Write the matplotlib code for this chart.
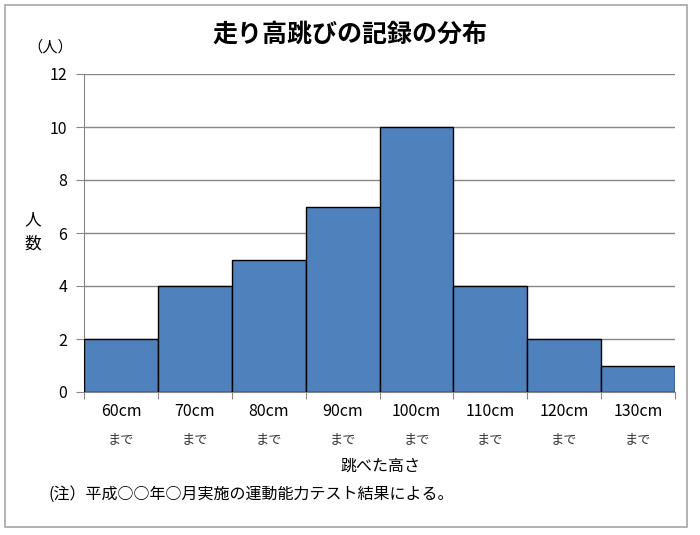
import matplotlib
matplotlib.use('Agg')
import matplotlib.pyplot as plt
from matplotlib.patches import Rectangle

plt.rcParams['font.family'] = ['Noto Sans CJK JP', 'DejaVu Sans']

# data
heights = ['60cm', '70cm', '80cm', '90cm', '100cm', '110cm', '120cm', '130cm']
counts = [2, 4, 5, 7, 10, 4, 2, 1]
y_ticks = [0, 2, 4, 6, 8, 10, 12]

W, H = 700, 535
fig = plt.figure(figsize=(W / 100, H / 100), dpi=100)

# outer frame of the chart
fig.patches.append(Rectangle((5 / W, 1 - 527 / H), 682 / W, 522 / H,
                             transform=fig.transFigure, fill=False,
                             edgecolor='#a6a6a6', linewidth=1.2))

ax = fig.add_axes([84 / W, 1 - 392 / H, 591 / W, 318 / H])
x = list(range(len(counts)))
ax.bar(x, counts, width=1.0, color='#4f81bd', edgecolor='black', linewidth=1.0, zorder=3)

ax.set_xlim(-0.5, len(counts) - 0.5)
ax.set_ylim(0, 12)
ax.set_yticks(y_ticks)
ax.set_yticklabels([str(v) for v in y_ticks], fontsize=11.5)
ax.grid(axis='y', color='#878787', linewidth=1.0, zorder=0)

# x ticks at bar boundaries, labels between them
ax.set_xticks([i - 0.5 for i in range(len(counts) + 1)])
ax.set_xticklabels([])
ax.tick_params(axis='x', direction='out', length=5, color='#878787')
ax.tick_params(axis='y', direction='out', length=6, color='#878787', pad=6)
for i, h in enumerate(heights):
    ax.text(i, -0.75, h, ha='center', va='center', fontsize=11.5)
    ax.text(i, -1.8, 'まで', ha='center', va='center', fontsize=9.5, color='#333333')

for s in ['top', 'right']:
    ax.spines[s].set_visible(False)
ax.spines['left'].set_color('#878787')
ax.spines['bottom'].set_color('#878787')

fig.text(350 / W, 1 - 35 / H, '走り高跳びの記録の分布', ha='center', va='center',
         fontsize=18, fontweight='bold')
fig.text(50 / W, 1 - 47 / H, '（人）', ha='center', va='center', fontsize=11)
fig.text(33 / W, 1 - 232 / H, '人\n数', ha='center', va='center', fontsize=12,
         linespacing=1.6)
fig.text(380 / W, 1 - 466 / H, '跳べた高さ', ha='center', va='center', fontsize=11.5)
fig.text(48 / W, 1 - 494 / H, '(注）平成○○年○月実施の運動能力テスト結果による。',
         ha='left', va='center', fontsize=11.5)

plt.savefig('out.png', dpi=100)
plt.close()
